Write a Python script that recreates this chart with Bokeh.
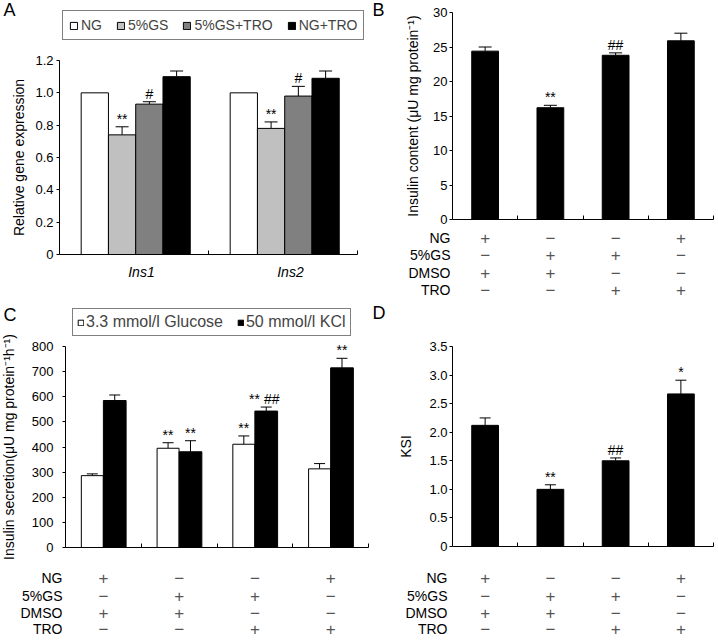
from bokeh.plotting import figure
from bokeh.models import (Range1d, FixedTicker, CustomJSTickFormatter, ColumnDataSource,
                          Whisker, TeeHead, Label, LabelSet, Legend, LegendItem)
from bokeh.layouts import column, row
from bokeh.embed import file_html
from bokeh.resources import INLINE
from bokeh.core.properties import value

FONT = "Liberation Sans"

# ---------------- data ----------------
# Panel A
genes = ["Ins1", "Ins2"]
a_names = ["NG", "5%GS", "5%GS+TRO", "NG+TRO"]
a_ng = [1.00, 1.00]
a_ng_err = [0.0, 0.0]
a_gs = [0.74, 0.78]
a_gs_err = [0.05, 0.04]
a_gstro = [0.93, 0.98]
a_gstro_err = [0.015, 0.06]
a_ngtro = [1.10, 1.09]
a_ngtro_err = [0.035, 0.045]
a_sig_gs = ["**", "**"]
a_sig_gstro = ["#", "#"]
a_yticks = [0, 0.2, 0.4, 0.6, 0.8, 1.0, 1.2]

# Treatment table (B, C, D)
table_rows = ["NG", "5%GS", "DMSO", "TRO"]
table_ng = ["+", "\u2212", "\u2212", "+"]
table_gs = ["\u2212", "+", "+", "\u2212"]
table_dmso = ["+", "+", "\u2212", "\u2212"]
table_tro = ["\u2212", "\u2212", "+", "+"]

# Panel B
b_values = [24.4, 16.2, 23.8, 25.9]
b_err = [0.6, 0.35, 0.35, 1.1]
b_sig = ["", "**", "##", ""]
b_yticks = [0, 5, 10, 15, 20, 25, 30]

# Panel C
c_glucose = [286, 395, 411, 313]
c_glucose_err = [7, 22, 33, 21]
c_kcl = [585, 381, 543, 715]
c_kcl_err = [22, 44, 16, 38]
c_sig_glucose = ["", "**", "**", ""]
c_sig_kcl = ["", "**", "**  ##", "**"]
c_yticks = [0, 100, 200, 300, 400, 500, 600, 700, 800]

# Panel D
d_values = [2.12, 1.00, 1.50, 2.67]
d_err = [0.13, 0.08, 0.05, 0.24]
d_sig = ["", "**", "##", "*"]
d_yticks = [0, 0.5, 1.0, 1.5, 2.0, 2.5, 3.0, 3.5]


# ---------------- helpers ----------------
def make_fig(w, h, box, x_lo, x_hi, yticks, ylabel, tick_standoff, label_standoff):
    """box = (left, right, top, bottom) pixel position of the axes inside the figure."""
    left, right, top, bottom = box
    y_lo, y_hi = yticks[0], yticks[-1]
    xs = (x_hi - x_lo) / (right - left)
    ys = (y_hi - y_lo) / (bottom - top)
    p = figure(width=w, height=h,
               x_range=Range1d(x_lo - left * xs, x_hi + (w - right) * xs),
               y_range=Range1d(y_lo - (h - bottom) * ys, y_hi + top * ys),
               output_backend="svg", toolbar_location=None,
               min_border_left=0, min_border_right=0, min_border_top=0, min_border_bottom=0)
    p.xgrid.visible = False
    p.ygrid.visible = False
    p.outline_line_color = None
    p.background_fill_color = "white"
    p.border_fill_color = "white"
    for ax in (p.xaxis[0], p.yaxis[0]):
        ax.axis_line_color = "black"
        ax.major_tick_line_color = "black"
        ax.minor_tick_line_color = "black"
        ax.major_label_text_font = FONT
        ax.major_label_text_font_size = "13px"
        ax.major_label_text_color = "black"
        ax.axis_label_text_font = FONT
        ax.axis_label_text_font_style = "normal"
        ax.axis_label_text_font_size = "14px"
        ax.axis_label_text_color = "black"
    ya = p.yaxis[0]
    ya.fixed_location = x_lo
    ya.bounds = (y_lo, y_hi)
    ya.ticker = FixedTicker(ticks=yticks)
    ya.major_tick_out = 3
    ya.major_tick_in = 0
    ya.minor_tick_out = 0
    ya.minor_tick_in = 0
    ya.major_label_standoff = tick_standoff
    ya.axis_label = ylabel
    ya.axis_label_standoff = label_standoff
    xa = p.xaxis[0]
    xa.fixed_location = y_lo
    xa.bounds = (x_lo, x_hi)
    xa.major_tick_in = 0
    xa.major_tick_out = 0
    xa.minor_tick_in = 4
    xa.minor_tick_out = 0
    return p


def add_errors(p, xs, tops, errs, head):
    rows_ = [(x, t, e) for x, t, e in zip(xs, tops, errs) if e > 0]
    src = ColumnDataSource(dict(x=[r[0] for r in rows_], lower=[r[1] for r in rows_],
                                upper=[r[1] + r[2] for r in rows_]))
    p.add_layout(Whisker(base="x", upper="upper", lower="lower", source=src,
                         dimension="height", line_color="black", line_width=1,
                         upper_head=TeeHead(size=head, line_color="black", line_width=1),
                         lower_head=None))


def add_sig(p, xs, tops, errs, texts):
    src = ColumnDataSource(dict(x=xs, y=[t + e for t, e in zip(tops, errs)], t=texts))
    p.add_layout(LabelSet(x="x", y="y", text="t", source=src, y_offset=3,
                          text_align="center", text_baseline="alphabetic",
                          text_font=value(FONT), text_font_size="14px", text_color="black"))


def add_table(p, xs, row_y, label_x):
    marks = [table_ng, table_gs, table_dmso, table_tro]
    for name, mk, yy in zip(table_rows, marks, row_y):
        p.add_layout(Label(x=label_x, y=yy, x_units="screen", y_units="screen", text=name,
                           text_align="right", text_baseline="middle", text_font=FONT,
                           text_font_size="14px", text_color="black"))
        src = ColumnDataSource(dict(x=xs, y=[yy] * len(xs), t=mk))
        p.add_layout(LabelSet(x="x", y="y", y_units="screen", text="t", source=src,
                              text_align="center", text_baseline="middle",
                              text_font=value(FONT), text_font_size="17px",
                              text_color="#555555"))


def add_letter(p, text, x, y):
    p.add_layout(Label(x=x, y=y, x_units="screen", y_units="screen", text=text,
                       text_align="left", text_baseline="top", text_font=FONT,
                       text_font_size="18px", text_color="black"))


H1, H2 = 304, 334
W1, W2 = 370, 346

# ---------------- Panel A ----------------
pA = make_fig(W1, H1, (59, 357, 60, 254), 0, len(genes), a_yticks,
              "Relative gene expression", 3, 5)
pA.yaxis[0].formatter = CustomJSTickFormatter(code="return tick == 0 ? '0' : tick.toFixed(1);")
a_label_pos = [i + 0.55 for i in range(len(genes))]
pA.xaxis[0].ticker = FixedTicker(ticks=a_label_pos,
                                 minor_ticks=[i + 1 for i in range(len(genes))])
pA.xaxis[0].major_label_overrides = {x: g for x, g in zip(a_label_pos, genes)}
pA.xaxis[0].major_label_text_font_style = "italic"
pA.xaxis[0].major_label_text_font_size = "14px"
pA.xaxis[0].major_label_standoff = 9

a_series = [a_ng, a_gs, a_gstro, a_ngtro]
a_errs = [a_ng_err, a_gs_err, a_gstro_err, a_ngtro_err]
a_colors = ["white", "#c0c0c0", "#808080", "black"]
a_offsets = [-0.263, -0.08, 0.103, 0.286]
a_width = 0.183
legend_items = []
for name, vals, errs, col, off in zip(a_names, a_series, a_errs, a_colors, a_offsets):
    xs = [i + 0.5 + off for i in range(len(genes))]
    r = pA.vbar(x=xs, top=vals, width=a_width, fill_color=col, line_color="black", line_width=1)
    legend_items.append(LegendItem(label=name, renderers=[r]))
    add_errors(pA, xs, vals, errs, 13)
add_sig(pA, [i + 0.5 + a_offsets[1] for i in range(len(genes))], a_gs, a_gs_err, a_sig_gs)
add_sig(pA, [i + 0.5 + a_offsets[2] for i in range(len(genes))], a_gstro, a_gstro_err, a_sig_gstro)
legA = Legend(items=legend_items, orientation="horizontal", location=(62, 264),
              glyph_width=9, glyph_height=9, label_standoff=3, spacing=14, padding=6,
              margin=0, border_line_color="black", border_line_width=1,
              label_text_font=FONT, label_text_font_size="14px", label_height=14,
              background_fill_color="white")
pA.add_layout(legA)
add_letter(pA, "A", 3, H1 + 1)

# ---------------- Panel B ----------------
pB = make_fig(W2, H1, (82, 343, 12, 219), 0, len(b_values), b_yticks,
              "Insulin content (\u03bcU mg protein\u207b\u00b9)", 2, 9)
pB.xaxis[0].ticker = FixedTicker(ticks=[], minor_ticks=[i + 1 for i in range(len(b_values))])
b_x = [i + 0.5 for i in range(len(b_values))]
pB.vbar(x=b_x, top=b_values, width=0.41, fill_color="black", line_color="black")
add_errors(pB, b_x, b_values, b_err, 13)
add_sig(pB, b_x, b_values, b_err, b_sig)
add_table(pB, b_x, [67, 50, 32, 15], 80)
add_letter(pB, "B", 2, H1 + 1)

# ---------------- Panel C ----------------
pC = make_fig(W1, H2, (65, 368, 42, 243), 0, len(c_glucose), c_yticks,
              "Insulin secretion(\u03bcU mg protein\u207b\u00b9h\u207b\u00b9)", 9, 12)
pC.xaxis[0].ticker = FixedTicker(ticks=[], minor_ticks=[i + 1 for i in range(len(c_glucose))])
c_center = [i + 0.5 for i in range(len(c_glucose))]
c_xg = [x - 0.146 for x in c_center]
c_xk = [x + 0.15 for x in c_center]
rg = pC.vbar(x=c_xg, top=c_glucose, width=0.29, fill_color="white", line_color="black")
rk = pC.vbar(x=c_xk, top=c_kcl, width=0.30, fill_color="black", line_color="black")
add_errors(pC, c_xg, c_glucose, c_glucose_err, 11)
add_errors(pC, c_xk, c_kcl, c_kcl_err, 11)
add_sig(pC, c_xg, c_glucose, c_glucose_err, c_sig_glucose)
add_sig(pC, c_xk, c_kcl, c_kcl_err, c_sig_kcl)
legC = Legend(items=[LegendItem(label="3.3 mmol/l Glucose", renderers=[rg]),
                     LegendItem(label="50 mmol/l KCl", renderers=[rk])],
              orientation="horizontal", location=(72, 302),
              glyph_width=7, glyph_height=7, label_standoff=2, spacing=14, padding=4,
              margin=0, border_line_color="black", border_line_width=1,
              label_text_font=FONT, label_text_font_size="16px", label_height=16,
              background_fill_color="white")
pC.add_layout(legC)
add_table(pC, c_center, [61, 43, 26, 10], 62)
add_letter(pC, "C", 3, H2)

# ---------------- Panel D ----------------
pD = make_fig(W2, H2, (82, 343, 42, 242), 0, len(d_values), d_yticks, "KSI", 2, 12)
pD.yaxis[0].formatter = CustomJSTickFormatter(code="return tick == 0 ? '0' : tick.toFixed(1);")
pD.xaxis[0].ticker = FixedTicker(ticks=[], minor_ticks=[i + 1 for i in range(len(d_values))])
d_x = [i + 0.5 for i in range(len(d_values))]
pD.vbar(x=d_x, top=d_values, width=0.41, fill_color="black", line_color="black")
add_errors(pD, d_x, d_values, d_err, 11)
add_sig(pD, d_x, d_values, d_err, d_sig)
add_table(pD, d_x, [61, 43, 26, 10], 77)
add_letter(pD, "D", 2, H2 + 2)

layout = column(row(pA, pB), row(pC, pD))
open("out.html", "w").write(file_html(layout, INLINE))
